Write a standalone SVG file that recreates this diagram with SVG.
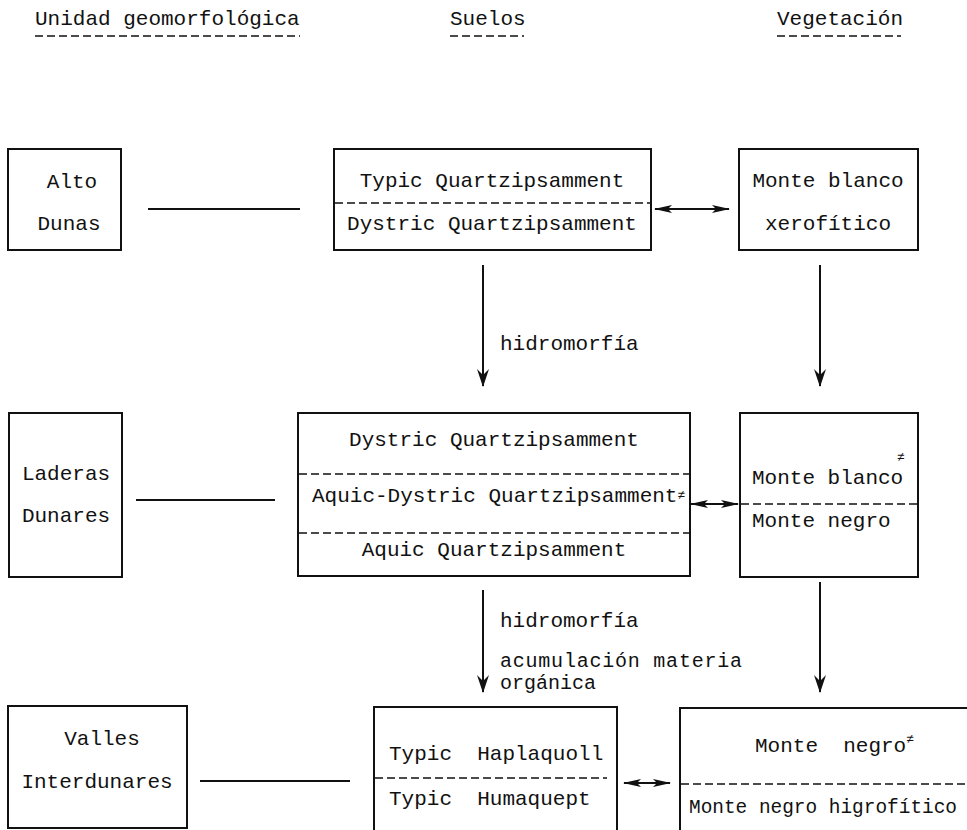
<svg xmlns="http://www.w3.org/2000/svg" width="967" height="830" viewBox="0 0 967 830">
<style>
text{font-family:"Liberation Mono","DejaVu Sans Mono",monospace;font-size:21px;fill:#111}
.c{text-anchor:middle}
.sup{font-size:13px}
.t{font-size:20px}
rect{fill:none;stroke:#111;stroke-width:2}
.l{stroke:#111;stroke-width:2;fill:none}
.d{stroke:#111;stroke-width:1.6;stroke-dasharray:8 4;fill:none}
</style>
<defs>
<marker id="ah" viewBox="0 0 18 10" refX="17" refY="5" markerWidth="18" markerHeight="10" orient="auto-start-reverse" markerUnits="userSpaceOnUse">
<path d="M0,1 L18,5 L0,9 L4,5 Z" fill="#111"/>
</marker>
<marker id="av" viewBox="0 0 12 18" refX="6" refY="17" markerWidth="12" markerHeight="18" orient="0" markerUnits="userSpaceOnUse">
<path d="M0,0 L6,18 L12,0 L6,6 Z" fill="#111"/>
</marker>
</defs>
<g id="headers">
<text x="35" y="25">Unidad geomorfológica</text>
<line class="d" x1="35" y1="36" x2="300" y2="36"/>
<text x="450" y="25">Suelos</text>
<line class="d" x1="450" y1="36" x2="524" y2="36"/>
<text x="777" y="25">Vegetación</text>
<line class="d" x1="777" y1="36" x2="901" y2="36"/>
</g>
<g id="alto-dunas">
<rect x="8" y="149" width="113" height="101"/>
<text class="c" x="72" y="188">Alto</text>
<text class="c" x="69" y="230">Dunas</text>
</g>
<g id="suelos-1">
<rect x="334" y="149" width="317" height="101"/>
<text class="c" x="492" y="187">Typic Quartzipsamment</text>
<line class="d" x1="335" y1="203" x2="650" y2="203"/>
<text class="c" x="492" y="230">Dystric Quartzipsamment</text>
</g>
<g id="veg-1">
<rect x="739" y="149" width="179" height="101"/>
<text class="c" x="828" y="187">Monte blanco</text>
<text class="c" x="828" y="230">xerofítico</text>
</g>
<g id="laderas">
<rect x="9" y="413" width="113" height="164"/>
<text class="c" x="66" y="480">Laderas</text>
<text class="c" x="66" y="522">Dunares</text>
</g>
<g id="suelos-2">
<rect x="298" y="413" width="392" height="163"/>
<text class="c" x="494" y="446">Dystric Quartzipsamment</text>
<line class="d" x1="299" y1="474" x2="689" y2="474"/>
<text x="312" y="502">Aquic-Dystric Quartzipsamment<tspan class="sup" dy="-3">≠</tspan></text>
<line class="d" x1="299" y1="533" x2="689" y2="533"/>
<text class="c" x="494" y="556">Aquic Quartzipsamment</text>
</g>
<g id="veg-2">
<rect x="740" y="413" width="178" height="164"/>
<text x="752" y="484">Monte blanco</text>
<text class="sup" x="897" y="461">≠</text>
<line class="d" x1="741" y1="504" x2="917" y2="504"/>
<text x="752" y="527">Monte negro</text>
</g>
<g id="valles">
<rect x="8" y="706" width="179" height="122"/>
<text class="c" x="102" y="745">Valles</text>
<text class="c" x="97" y="788">Interdunares</text>
</g>
<g id="suelos-3">
<rect x="374" y="707" width="243" height="124"/>
<text x="389" y="760" xml:space="preserve">Typic  Haplaquoll</text>
<line class="d" x1="375" y1="778" x2="607" y2="778"/>
<text x="389" y="805" xml:space="preserve">Typic  Humaquept</text>
</g>
<g id="veg-3">
<rect x="680" y="708" width="300" height="124"/>
<text x="755" y="752" xml:space="preserve">Monte  negro<tspan class="sup" dy="-9">≠</tspan></text>
<line class="d" x1="681" y1="784" x2="967" y2="784"/>
<text x="689" y="813" textLength="268" lengthAdjust="spacingAndGlyphs">Monte negro higrofítico</text>
</g>
<g id="connectors">
<line class="l" x1="148" y1="209" x2="300" y2="209"/>
<line class="l" x1="655" y1="209" x2="729" y2="209" marker-start="url(#ah)" marker-end="url(#ah)"/>
<line class="l" x1="483" y1="265" x2="483" y2="386" marker-end="url(#av)"/>
<text x="500" y="350">hidromorfía</text>
<line class="l" x1="820" y1="265" x2="820" y2="386" marker-end="url(#av)"/>
<line class="l" x1="136" y1="500" x2="275" y2="500"/>
<line class="l" x1="691" y1="504" x2="738" y2="504" marker-start="url(#ah)" marker-end="url(#ah)"/>
<line class="l" x1="483" y1="590" x2="483" y2="692" marker-end="url(#av)"/>
<text x="500" y="627">hidromorfía</text>
<text class="t" x="500" y="667" textLength="242">acumulación materia</text>
<text class="t" x="500" y="689">orgánica</text>
<line class="l" x1="820" y1="582" x2="820" y2="692" marker-end="url(#av)"/>
<line class="l" x1="200" y1="781" x2="350" y2="781"/>
<line class="l" x1="624" y1="783" x2="670" y2="783" marker-start="url(#ah)" marker-end="url(#ah)"/>
</g>
</svg>
